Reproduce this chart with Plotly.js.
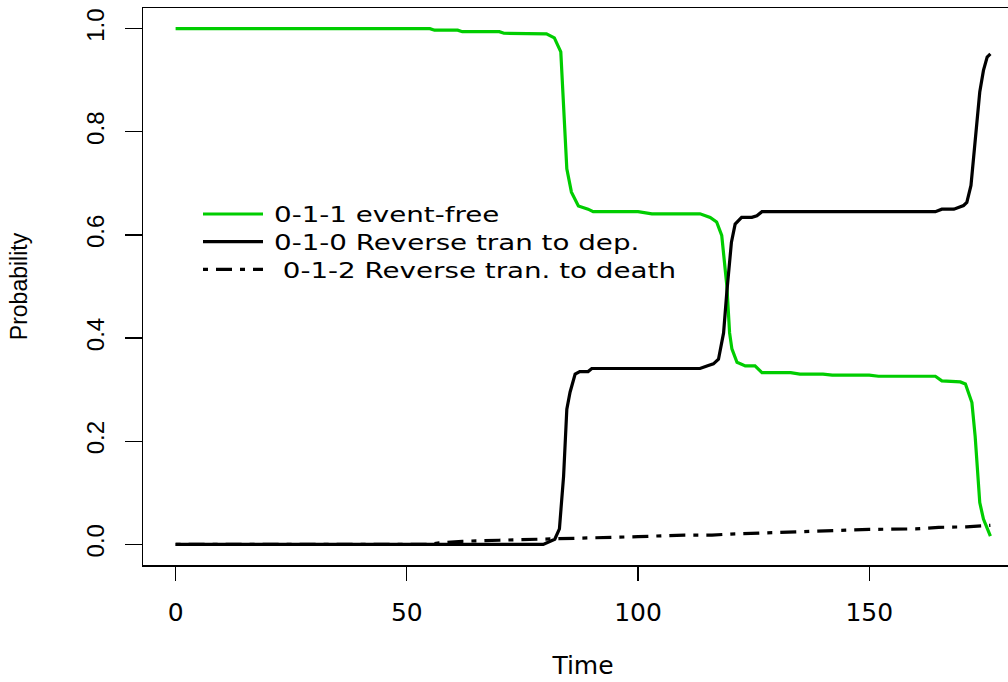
<!DOCTYPE html>
<html>
<head>
<meta charset="utf-8">
<script src="https://cdn.plot.ly/plotly-3.0.1.min.js"></script>
<style>
  html, body { margin: 0; padding: 0; overflow: hidden; background: #fff; }
  #chart { width: 1040px; height: 682px; }
  #chart .legend .scrollbox, #chart .legend g { clip-path: none !important; }
  #chart .legendtext {
    transform-box: fill-box;
    transform-origin: left center;
    transform: translateX(6px) scale(1.46, 1.15);
  }
</style>
</head>
<body>
<div id="chart"></div>
<script>
// ---- data ----
const seriesNames = ["0-1-1 event-free", "0-1-0 Reverse tran to dep.", " 0-1-2 Reverse tran. to death"];

const timeGreen = [0, 55, 56, 61, 62, 70, 71, 80.2, 81.9, 83.3, 84.6, 85.6, 87.1, 89.2, 90.3, 100, 103, 113.4, 115.6, 117, 118.1, 119.2, 119.8, 120.3, 121.4, 123.2, 125.3, 126.8, 133, 135, 140, 142, 150, 152, 164.3, 165.7, 169.7, 170.8, 172.2, 172.9, 173.9, 174.7, 176.2];
const probGreen = [1.0, 1.0, 0.997, 0.997, 0.994, 0.994, 0.991, 0.99, 0.982, 0.955, 0.728, 0.683, 0.656, 0.650, 0.645, 0.645, 0.641, 0.641, 0.634, 0.625, 0.599, 0.502, 0.41, 0.379, 0.353, 0.346, 0.346, 0.333, 0.333, 0.330, 0.330, 0.328, 0.328, 0.326, 0.326, 0.317, 0.315, 0.311, 0.275, 0.21, 0.081, 0.049, 0.016];

const timeBlack = [0, 79.5, 82, 83, 83.9, 84.6, 85.3, 86.4, 87.4, 89.2, 90, 113.4, 114.9, 116.3, 117.4, 118.5, 119.2, 119.8, 120.2, 121, 122.4, 124.6, 125.7, 126.8, 164.3, 165.7, 168.3, 170.4, 171.1, 172, 172.9, 173.9, 174.7, 175.5, 176.2];
const probBlack = [0, 0, 0.01, 0.03, 0.132, 0.262, 0.295, 0.33, 0.335, 0.335, 0.341, 0.341, 0.346, 0.35, 0.359, 0.41, 0.489, 0.54, 0.586, 0.621, 0.634, 0.634, 0.637, 0.645, 0.645, 0.65, 0.65, 0.657, 0.663, 0.696, 0.786, 0.877, 0.919, 0.945, 0.951];

const timeDeath = [0, 55, 57, 62, 70, 80, 90, 100, 110, 116, 120, 127, 135, 145, 150, 160, 165, 171, 176.2];
const probDeath = [0, 0, 0.003, 0.006, 0.008, 0.010, 0.013, 0.015, 0.018, 0.018, 0.020, 0.022, 0.025, 0.027, 0.029, 0.030, 0.033, 0.034, 0.037];

const xTickVals = [0, 50, 100, 150];
const xTickText = ["0", "50", "100", "150"];
const yTickVals = [0, 0.2, 0.4, 0.6, 0.8, 1.0];
const yTickText = ["0.0", "0.2", "0.4", "0.6", "0.8", "1.0"];

// ---- traces ----
const traces = [
  { x: timeGreen, y: probGreen, name: seriesNames[0], mode: "lines",
    line: { color: "#00CD00", width: 3.2 } },
  { x: timeBlack, y: probBlack, name: seriesNames[1], mode: "lines",
    line: { color: "#000000", width: 3.2 } },
  { x: timeDeath, y: probDeath, name: seriesNames[2], mode: "lines",
    line: { color: "#000000", width: 3.2, dash: "5px,8px,16px,8px" } }
];

const layout = {
  width: 1040, height: 682,
  margin: { l: 143, r: 17, t: 8, b: 117 },
  paper_bgcolor: "#ffffff", plot_bgcolor: "#ffffff",
  font: { family: "DejaVu Sans, sans-serif", color: "#000000" },
  showlegend: true,
  legend: {
    x: 0.0625, y: 0.664, xanchor: "left", yanchor: "top",
    bgcolor: "rgba(0,0,0,0)", borderwidth: 0,
    font: { family: "DejaVu Sans, sans-serif", size: 19, color: "#000000" },
    itemwidth: 60
  },
  xaxis: {
    range: [-7.05, 183.25], autorange: false,
    tickmode: "array", tickvals: xTickVals, ticktext: xTickText,
    ticks: "outside", ticklen: 14, tickwidth: 1.3, tickcolor: "#000",
    ticklabelstandoff: 10,
    tickfont: { family: "DejaVu Sans, sans-serif", size: 25, color: "#000" },
    showgrid: false, zeroline: false,
    showline: true, mirror: true, linecolor: "#000", linewidth: 1.5,
    title: { text: "Time", font: { family: "DejaVu Sans, sans-serif", size: 25, color: "#000" }, standoff: 31 }
  },
  yaxis: {
    range: [-0.04, 1.04], autorange: false,
    tickmode: "array", tickvals: yTickVals, ticktext: yTickText,
    ticks: "outside", ticklen: 17, tickwidth: 1.3, tickcolor: "#000",
    tickangle: -90, ticklabelstandoff: 11,
    tickfont: { family: "Liberation Sans, Arial, sans-serif", size: 24, color: "#000" },
    showgrid: false, zeroline: false,
    showline: true, mirror: true, linecolor: "#000", linewidth: 1.5,
    title: { text: "Probability", font: { family: "Liberation Sans, Arial, sans-serif", size: 23, color: "#000" }, standoff: 48 }
  }
};

Plotly.newPlot("chart", traces, layout, { staticPlot: true, displayModeBar: false });
</script>
</body>
</html>
